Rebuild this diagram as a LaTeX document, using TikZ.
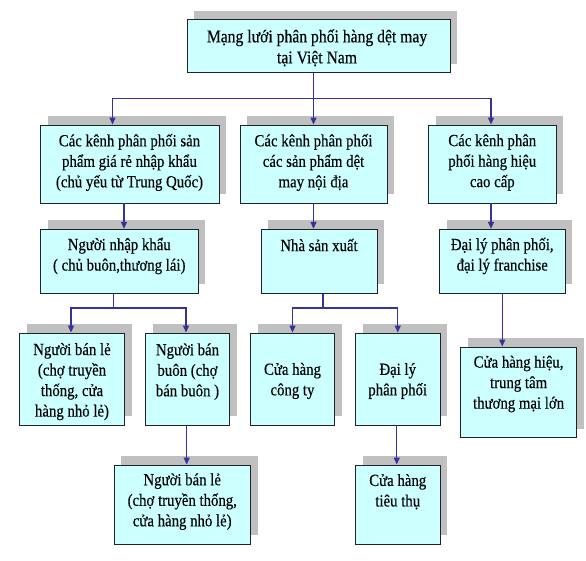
\documentclass[tikz,border=0pt]{standalone}
\usepackage{fontspec}
\setmainfont[FakeStretch=0.87,FakeBold=0.3]{Liberation Serif}
\usetikzlibrary{arrows.meta,shadows,calc}
\definecolor{boxfill}{HTML}{CCFFFF}
\definecolor{boxline}{HTML}{222222}
\definecolor{shadowgray}{HTML}{C0C0C0}
\definecolor{connblue}{HTML}{333399}
\tikzset{
  box/.style={draw=boxline, line width=0.9pt, fill=boxfill, inner sep=0pt,
    drop shadow={shadow xshift=7pt, shadow yshift=9pt, fill=shadowgray, opacity=1}},
  lbl/.style={align=center, inner sep=0pt, font=\fontsize{17}{20.5}\selectfont},
  conn/.style={draw=connblue, line width=1.4pt},
  arr/.style={conn, -{Triangle[length=7pt,width=6pt]}}
}
\begin{document}
\begin{tikzpicture}[x=1pt,y=-1pt]
\useasboundingbox (0,0) rectangle (586,561);
% boxes
\node[box, minimum width=262.5pt, minimum height=52.7pt] (T) at (318.7,46.3) {};
\node[box, minimum width=178.5pt, minimum height=78pt] (L1a) at (129.75,164) {};
\node[box, minimum width=147pt, minimum height=78pt] (L1b) at (313.5,164) {};
\node[box, minimum width=127.4pt, minimum height=78pt] (L1c) at (492.3,164) {};
\node[box, minimum width=157.5pt, minimum height=64pt] (L2a) at (119.25,261.3) {};
\node[box, minimum width=116pt, minimum height=64pt] (L2b) at (319,261.3) {};
\node[box, minimum width=125.5pt, minimum height=64pt] (L2c) at (502.25,261.3) {};
\node[box, minimum width=105pt, minimum height=92pt] (L3a) at (72,379) {};
\node[box, minimum width=84pt, minimum height=92pt] (L3b) at (187.5,379) {};
\node[box, minimum width=84pt, minimum height=92pt] (L3c) at (292.5,379) {};
\node[box, minimum width=84.5pt, minimum height=92pt] (L3d) at (397.75,379) {};
\node[box, minimum width=116.2pt, minimum height=90.7pt] (L4r) at (518.6,392.3) {};
\node[box, minimum width=136.5pt, minimum height=79pt] (L4a) at (182.25,504.5) {};
\node[box, minimum width=84.5pt, minimum height=79pt] (L4b) at (397.75,504.5) {};
% texts
\node[lbl, font=\fontsize{18}{21}\selectfont] (tT) at (317,47.8) {Mạng lưới phân phối hàng dệt may\\tại Việt Nam};
\node[lbl] (t1a) at (129.5,162.5) {Các kênh phân phối sản\\phẩm giá rẻ nhập khẩu\\(chủ yếu từ Trung Quốc)};
\node[lbl] (t1b) at (313.5,162.5) {Các kênh phân phối\\các sản phẩm dệt\\may nội địa};
\node[lbl] (t1c) at (492.3,162.5) {Các kênh phân\\phối hàng hiệu\\cao cấp};
\node[lbl] (t2a) at (119.25,256) {Người nhập khẩu\\( chủ buôn,thương lái)};
\node[lbl] (t2b) at (319,245) {Nhà sản xuất};
\node[lbl] (t2c) at (502.25,256) {Đại lý phân phối,\\đại lý franchise};
\node[lbl] (t3a) at (72,381.7) {Người bán lẻ\\(chợ truyền\\thống, cửa\\hàng nhỏ lẻ)};
\node[lbl] (t3b) at (187.5,371.7) {Người bán\\buôn (chợ\\bán buôn )};
\node[lbl] (t3c) at (292.5,381) {Cửa hàng\\công ty};
\node[lbl] (t3d) at (397.75,381) {Đại lý\\phân phối};
\node[lbl] (t4r) at (518.6,384) {Cửa hàng hiệu,\\trung tâm\\thương mại lớn};
\node[lbl] (t4a) at (182.25,501.7) {Người bán lẻ\\(chợ truyền thống,\\cửa hàng nhỏ lẻ)};
\node[lbl] (t4b) at (397.75,491.7) {Cửa hàng\\tiêu thụ};
% connectors
\draw[arr] (T.south -| L1b.north) -- (L1b.north);
\draw[arr] (T.south -| L1b.north) -- ++(0,25.3) -| ([xshift=-17.25pt]L1a.north);
\draw[arr] (T.south -| L1b.north) -- ++(0,25.3) -| ([xshift=-1.3pt]L1c.north);
\draw[arr] ([xshift=-5.75pt]L1a.south) -- ([xshift=-5.75pt]L1a.south |- L2a.north);
\draw[arr] (L1b.south) -- (L1b.south |- L2b.north);
\draw[arr] ([xshift=-1.3pt]L1c.south) -- ([xshift=-1.3pt]L1c.south |- L2c.north);
\draw[arr] ([xshift=-5.75pt]L2a.south) -- ++(0,14.4) -| ([xshift=-1pt]L3a.north);
\draw[arr] ([xshift=-5.75pt]L2a.south) -- ++(0,14.4) -| ([xshift=-1.5pt]L3b.north);
\draw[arr] ([xshift=4pt]L2b.south) -- ++(0,14.4) -| (L3c.north);
\draw[arr] ([xshift=4pt]L2b.south) -- ++(0,14.4) -| (L3d.north);
\draw[arr] (L2c.south) -- (L2c.south |- L4r.north);
\draw[arr] ([xshift=-0.8pt]L3b.south) -- ([xshift=-0.8pt]L3b.south |- L4a.north);
\draw[arr] ([xshift=-1pt]L3d.south) -- ([xshift=-1pt]L3d.south |- L4b.north);
\end{tikzpicture}
\end{document}
